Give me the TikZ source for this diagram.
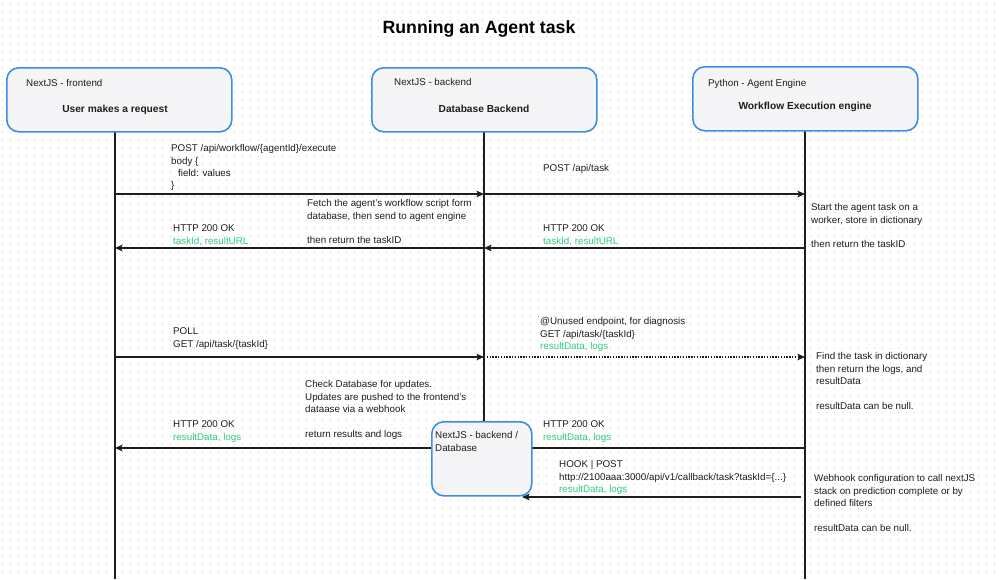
\documentclass[tikz,border=0pt]{standalone}
\usepackage{fontspec}
\setmainfont{Liberation Sans}
\usetikzlibrary{arrows.meta}
\definecolor{ink}{HTML}{1E1E1E}
\definecolor{okgreen}{HTML}{2FCB80}
\definecolor{boxblue}{HTML}{3C8EE4}
\definecolor{boxfill}{HTML}{F5F5F7}
\newcommand{\gr}[1]{{\color{okgreen}#1}}
\begin{document}
\begin{tikzpicture}[x=1pt,y=-1pt,
  lane/.style={draw=boxblue, line width=1.6pt, fill=boxfill, rounded corners=12pt, anchor=north west, inner sep=0pt},
  life/.style={draw=ink, line width=1.3pt},
  msg/.style={draw=ink, line width=1.4pt, -{Stealth[length=7.5pt,width=6.5pt,inset=1.5pt]}},
  dotmsg/.style={msg, dash pattern=on 1.4pt off 1.4pt},
  lbl/.style={anchor=north west, align=left, inner sep=0pt, text=ink, font=\fontsize{9.8}{12.4}\selectfont},
  head/.style={anchor=west, inner sep=0pt, text=ink, font=\fontsize{9.8}{11}\selectfont},
  big/.style={inner sep=0pt, text=ink, font=\bfseries\fontsize{10.2}{12}\selectfont}]
\useasboundingbox (0,0) rectangle (999,579);
\fill[white] (0,0) rectangle (999,579);
\foreach \y in {4,12,...,576}
  \draw[gray!40, line width=0.9pt, dash pattern=on 0.9pt off 7.1pt] (2,\y) -- (999,\y);

% title
\node[text=black, font=\bfseries\fontsize{17.7}{20}\selectfont] (title) at (479,29) {Running an Agent task};

% lifelines
\coordinate (feT) at (115,131);
\coordinate (feB) at (115,579);
\coordinate (beT) at (484,131);
\coordinate (beB) at (484,421);
\coordinate (agT) at (805,130);
\coordinate (agB) at (805,579);
\draw[life] (feT) -- (feB);
\draw[life] (beT) -- (beB);
\draw[life] (agT) -- (agB);

% message points
\coordinate (f1) at (115,194); \coordinate (b1) at (484,194); \coordinate (a1) at (805,194);
\coordinate (f2) at (115,248); \coordinate (b2) at (484,248); \coordinate (a2) at (805,248);
\coordinate (f3) at (115,357); \coordinate (b3) at (484,357); \coordinate (a3) at (805,357);
\coordinate (f4) at (115,448); \coordinate (a4) at (805,448);
\coordinate (a5) at (801,497); \coordinate (d5) at (522,497);

\draw[msg] (f1) -- (b1);
\draw[msg] (b1) -- (a1);
\draw[msg] (a2) -- (b2);
\draw[msg] (b2) -- (f2);
\draw[msg] (f3) -- (b3);
\draw[dotmsg] (b3) -- (a3);
\draw[msg] (a4) -- (f4);
\draw[msg] (a5) -- (d5);

% header boxes
\node[lane, minimum width=225pt, minimum height=64pt] (fe) at (6,67) {};
\node[lane, minimum width=225pt, minimum height=64pt] (be) at (371,67) {};
\node[lane, minimum width=225pt, minimum height=64pt] (ag) at (692,66) {};
\node[head] (feS) at (26,83) {NextJS - frontend};
\node[big] (feM) at (115,110) {User makes a request};
\node[head] (beS) at (394,82) {NextJS - backend};
\node[big] (beM) at (484,109) {Database Backend};
\node[head] (agS) at (708,84) {Python - Agent Engine};
\node[big] (agM) at (805,107) {Workflow Execution engine};

% database box
\node[lane, minimum width=100pt, minimum height=74pt] (db) at (431,421) {};
\node[lbl] (dbT) at (435,429.75) {\strut NextJS - backend /\\Database};

% labels
\node[lbl] (l1) at (171,142.75) {\strut POST /api/workflow/\{agentId\}/execute\\body \{\\\hspace{7pt}field: values\\\}};
\node[lbl] (l2) at (543,162.75) {\strut POST /api/task};
\node[lbl] (l3) at (307,197.75) {\strut Fetch the agent's workflow script form\\database, then send to agent engine\\[12.4pt]then return the taskID};
\node[lbl] (l4) at (173,222.75) {\strut HTTP 200 OK\\\gr{taskId, resultURL}};
\node[lbl] (l5) at (543,222.75) {\strut HTTP 200 OK\\\gr{taskId, resultURL}};
\node[lbl] (l6) at (811,201.75) {\strut Start the agent task on a\\worker, store in dictionary\\[12.4pt]then return the taskID};
\node[lbl] (l7) at (173,325.75) {\strut POLL\\GET /api/task/\{taskId\}};
\node[lbl] (l8) at (540,315.75) {\strut @Unused endpoint, for diagnosis\\GET /api/task/\{taskId\}\\\gr{resultData, logs}};
\node[lbl] (l9) at (816,350.75) {\strut Find the task in dictionary\\then return the logs, and\\resultData\\[12.4pt]resultData can be null.};
\node[lbl] (l10) at (305,378.75) {\strut Check Database for updates.\\Updates are pushed to the frontend's\\dataase via a webhook\\[12.4pt]return results and logs};
\node[lbl] (l11) at (173,418.75) {\strut HTTP 200 OK\\\gr{resultData, logs}};
\node[lbl] (l12) at (543,418.75) {\strut HTTP 200 OK\\\gr{resultData, logs}};
\node[lbl] (l13) at (559,458.75) {\strut HOOK | POST\\http://2100aaa:3000/api/v1/callback/task?taskId=\{...\}\\\gr{resultData, logs}};
\node[lbl] (l14) at (814,472.75) {\strut Webhook configuration to call nextJS\\stack on prediction complete or by\\defined filters\\[12.4pt]resultData can be null.};
\end{tikzpicture}
\end{document}
